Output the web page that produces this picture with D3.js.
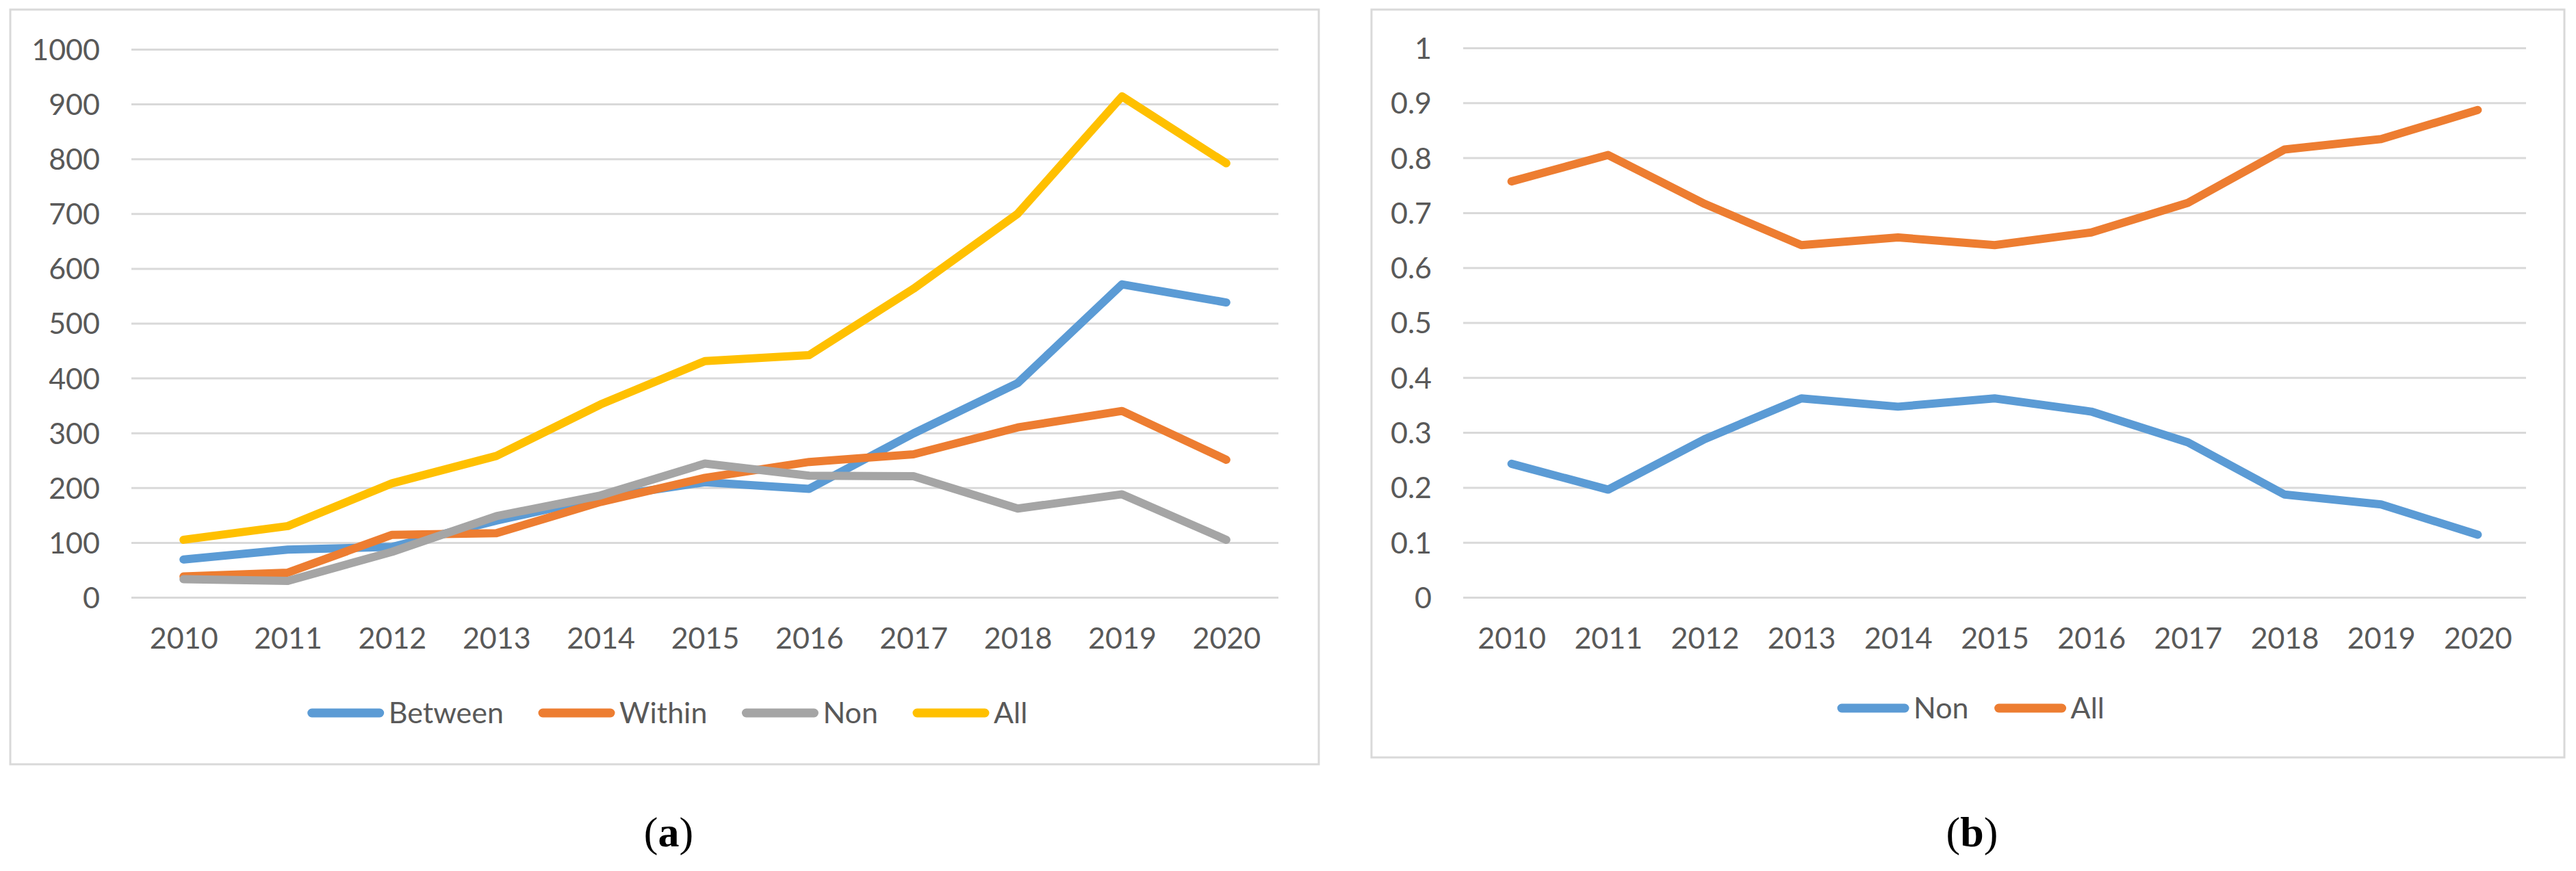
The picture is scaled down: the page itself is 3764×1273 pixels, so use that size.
<!DOCTYPE html>
<html>
<head>
<meta charset="utf-8">
<script src="https://cdn.jsdelivr.net/npm/d3@7"></script>
<style>
  body { margin: 0; background: #fff; }
  svg { display: block; }
</style>
</head>
<body>
<script>

var width = 3764;
var height = 1273;

// data
const years = ['2010','2011','2012','2013','2014','2015','2016','2017','2018','2019','2020'];

const between = [69, 87, 92, 140, 182, 210, 198, 299, 391, 571, 538];
const within = [38, 45, 114, 117, 174, 218, 247, 261, 310, 340, 251];
const nonA = [33, 30, 83, 148, 186, 244, 222, 221, 162, 188, 105];
const allA = [105, 130, 208, 258, 352, 431, 442, 563, 700, 914, 792];

const nonB = [0.243, 0.196, 0.288, 0.362, 0.347, 0.362, 0.338, 0.282, 0.187, 0.169, 0.114];
const allB = [0.757, 0.805, 0.716, 0.641, 0.655, 0.641, 0.664, 0.718, 0.815, 0.834, 0.887];

const yTicksA = [0, 100, 200, 300, 400, 500, 600, 700, 800, 900, 1000];
const yTicksB = [0, 0.1, 0.2, 0.3, 0.4, 0.5, 0.6, 0.7, 0.8, 0.9, 1];

const seriesA = [
    {name: 'Between', values: between, color: '#5b9bd5'},
    {name: 'Within', values: within, color: '#ed7d31'},
    {name: 'Non', values: nonA, color: '#a5a5a5'},
    {name: 'All', values: allA, color: '#ffc000'}
];
const seriesB = [
    {name: 'Non', values: nonB, color: '#5b9bd5'},
    {name: 'All', values: allB, color: '#ed7d31'}
];

const textColor = '#595959';
const gridColor = '#d9d9d9';
const font = 'Lato, "Open Sans", sans-serif';

let svg = d3.select('body')
    .append('svg')
        .attr('width', width)
        .attr('height', height);

svg.append('rect')
    .attr('width', width)
    .attr('height', height)
    .attr('fill', '#fff');

function drawPanel(p) {
    let g = svg.append('g');

    // chart frame
    g.append('rect')
        .attr('x', p.box[0])
        .attr('y', p.box[1])
        .attr('width', p.box[2] - p.box[0])
        .attr('height', p.box[3] - p.box[1])
        .attr('fill', '#fff')
        .attr('stroke', gridColor)
        .attr('stroke-width', 3);

    var xScale = d3.scalePoint()
        .domain(years)
        .range([p.plotX[0], p.plotX[1]])
        .padding(0.5);
    var yScale = d3.scaleLinear()
        .domain(p.yDomain)
        .range([p.plotY[1], p.plotY[0]]);

    var yAxis = d3.axisLeft(yScale)
        .tickValues(p.yTicks)
        .tickFormat(d3.format('~g'))
        .tickSize(-(p.plotX[1] - p.plotX[0]))
        .tickPadding(46);

    let yg = g.append('g')
        .attr('class', 'y axis')
        .attr('transform', 'translate(' + p.plotX[0] + ',0)')
        .call(yAxis);
    yg.select('.domain').remove();
    yg.selectAll('line')
        .attr('stroke', gridColor)
        .attr('stroke-width', 3);
    yg.selectAll('text')
        .attr('x', -46)
        .attr('dy', '0.36em')
        .attr('fill', textColor)
        .style('font-family', font)
        .style('font-size', '43px');

    var xAxis = d3.axisBottom(xScale)
        .tickSize(0)
        .tickPadding(0);

    let xg = g.append('g')
        .attr('class', 'x axis')
        .attr('transform', 'translate(0,' + p.xLabelY + ')')
        .call(xAxis);
    xg.select('.domain').remove();
    xg.selectAll('text')
        .attr('y', 0)
        .attr('dy', '0.36em')
        .attr('fill', textColor)
        .style('font-family', font)
        .style('font-size', '43px');

    var line = d3.line()
        .x((d, i) => xScale(years[i]))
        .y(d => yScale(d));

    p.series.forEach(function(s) {
        g.append('path')
            .datum(s.values)
            .attr('fill', 'none')
            .attr('stroke', s.color)
            .attr('stroke-width', 12)
            .attr('stroke-linejoin', 'round')
            .attr('stroke-linecap', 'round')
            .attr('d', line);
    });

    // legend, centred in the frame
    let lg = g.append('g');
    let cx = 0;
    p.series.forEach(function(s) {
        lg.append('line')
            .attr('x1', cx + 7)
            .attr('x2', cx + p.legLen - 7)
            .attr('y1', 0)
            .attr('y2', 0)
            .attr('stroke', s.color)
            .attr('stroke-width', 13)
            .attr('stroke-linecap', 'round');
        let t = lg.append('text')
            .attr('x', cx + p.legLen + 6)
            .attr('y', 0)
            .attr('dy', '0.36em')
            .attr('fill', textColor)
            .style('font-family', font)
            .style('font-size', '43px')
            .text(s.name);
        cx += p.legLen + 6 + t.node().getComputedTextLength() + p.legGap;
    });
    cx -= p.legGap;
    let mid = (p.box[0] + p.box[2]) / 2;
    lg.attr('transform', 'translate(' + (mid - cx / 2 + 4) + ',' + p.legY + ')');

    // caption
    let cap = svg.append('text')
        .attr('x', mid + 6)
        .attr('y', 1237)
        .attr('text-anchor', 'middle')
        .attr('fill', '#000')
        .style('font-family', '"Liberation Serif", "Times New Roman", serif')
        .style('font-size', '62px');
    cap.append('tspan').text('(');
    cap.append('tspan').attr('font-weight', 'bold').text(p.caption);
    cap.append('tspan').text(')');
}

drawPanel({
    box: [15, 14, 1927, 1117],
    plotX: [192, 1868],
    plotY: [72, 873],
    yDomain: [0, 1000],
    yTicks: yTicksA,
    xLabelY: 933,
    series: seriesA,
    legY: 1042,
    legLen: 113,
    legGap: 50,
    caption: 'a'
});

drawPanel({
    box: [2004, 14, 3747, 1107],
    plotX: [2138, 3691],
    plotY: [70, 873],
    yDomain: [0, 1],
    yTicks: yTicksB,
    xLabelY: 933,
    series: seriesB,
    legY: 1035,
    legLen: 106,
    legGap: 37,
    caption: 'b'
});

</script>
</body>
</html>
